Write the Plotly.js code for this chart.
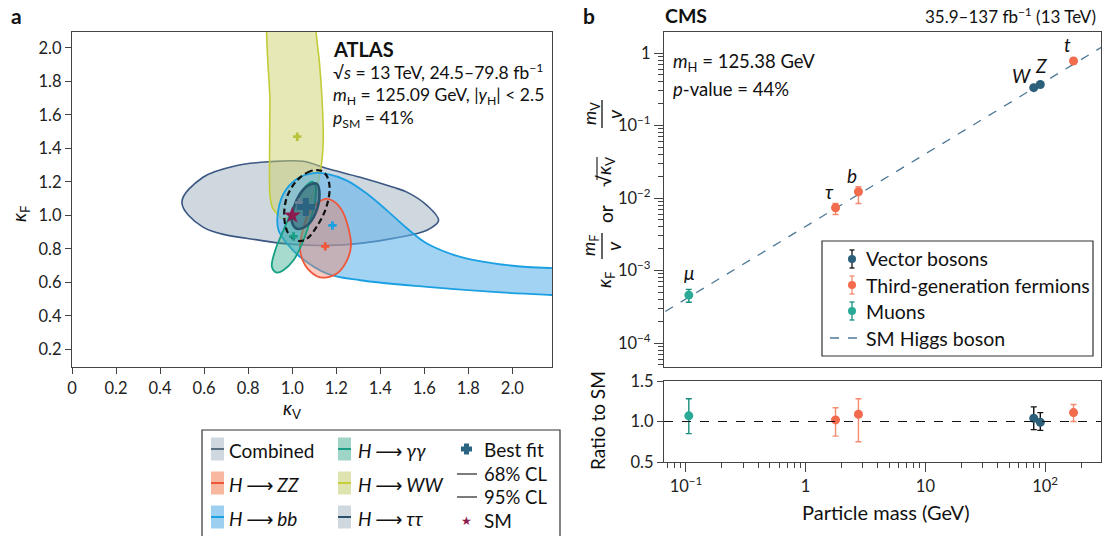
<!DOCTYPE html>
<html><head><meta charset="utf-8">
<script src="https://cdn.plot.ly/plotly-3.0.1.min.js"></script>
<style>html,body{margin:0;padding:0;background:#fff;} #chart{width:1114px;height:536px;}</style>
</head><body><div id="chart"></div>
<script>
// ---------- Panel a: ATLAS (kappa_V, kappa_F) contours ----------
const ttKV = [0.499,0.595,0.749,0.900,1.050,1.158,1.309,1.459,1.521,1.612,1.665,1.612,1.459,1.309,1.158,1.005,0.855,0.595,0.499];
const ttKF = [1.079,1.228,1.298,1.321,1.323,1.280,1.228,1.168,1.139,1.060,0.970,0.911,0.863,0.833,0.821,0.827,0.851,0.930,1.079];
const wwKV = [0.900,0.899,0.897,0.899,0.912,0.955,1.014,1.068,1.109,1.132,1.141,1.136,1.123,1.109,1.105,0.900];
const wwKF = [2.280,1.685,1.300,1.119,1.042,0.982,1.006,1.065,1.161,1.298,1.446,1.685,1.923,2.089,2.280,2.280];
const bbKV = [0.933,0.960,1.021,1.097,1.158,1.249,1.340,1.430,1.521,1.612,1.764,1.914,2.067,2.195,2.400,2.400,2.195,1.914,1.612,1.309,1.158,1.036,0.976,0.938,0.933];
const bbKF = [0.990,1.129,1.218,1.252,1.248,1.208,1.129,1.030,0.923,0.832,0.752,0.714,0.692,0.685,0.680,0.512,0.524,0.543,0.573,0.613,0.653,0.752,0.832,0.911,0.990];
const zzKV = [1.150,1.082,1.044,1.036,1.059,1.112,1.150,1.203,1.249,1.267,1.256,1.226,1.188,1.150];
const zzKF = [1.099,1.030,0.891,0.792,0.702,0.637,0.629,0.653,0.732,0.821,0.921,1.030,1.085,1.099];
const ggKV = [1.090,1.105,1.105,1.082,1.051,1.006,0.960,0.930,0.908,0.923,0.960,1.006,1.051,1.090];
const ggKF = [1.202,1.179,1.089,0.970,0.851,0.732,0.673,0.659,0.692,0.792,0.911,1.049,1.159,1.202];
const c68KV = [1.112,1.124,1.105,1.067,1.021,0.999,1.006,1.036,1.074,1.112];
const c68KF = [1.189,1.129,1.010,0.940,0.921,0.960,1.040,1.129,1.179,1.189];
const c95KV = [1.127,1.082,1.021,0.976,0.964,0.983,1.029,1.067,1.115,1.155,1.170,1.155,1.127];
const c95KF = [1.268,1.264,1.208,1.109,0.990,0.891,0.847,0.861,0.940,1.049,1.168,1.240,1.268];
const chanNames  = ['H→WW','H→ττ','H→bb','H→ZZ','H→γγ'];
const chanBestKV = [1.023,1.032,1.183,1.150,1.006];
const chanBestKF = [1.470,1.077,0.940,0.815,0.875];
const chanColors = ['#b9c43a','#6b7f95','#1ba0e0','#f0553a','#1a9e84'];
const bestKV = [1.062], bestKF = [1.050];
const smKV = [1.0], smKF = [1.0];
const aTicks = [0,0.2,0.4,0.6,0.8,1.0,1.2,1.4,1.6,1.8,2.0];
const aTickText = ['0','0.2','0.4','0.6','0.8','1.0','1.2','1.4','1.6','1.8','2.0'];

// ---------- Panel b: CMS coupling vs mass ----------
const vev = 246.22;
const muonMass = [0.1057], muonRatio = [1.07], muonUp = [0.21], muonDn = [0.22];
const fermMass = [1.777, 2.76, 172.76], fermRatio = [1.02, 1.09, 1.11], fermUp = [0.15, 0.19, 0.10], fermDn = [0.20, 0.34, 0.11];
const bosMass = [80.38, 91.19], bosRatio = [1.04, 0.99], bosUp = [0.14, 0.12], bosDn = [0.14, 0.10];
const smLineMass = [0.05, 400];
const labels = [
  {t:'μ', m:0.1057, r:1.07, kind:'f', dx:1, dy:23},
  {t:'τ', m:1.777, r:1.02, kind:'f', dx:-6, dy:16},
  {t:'b', m:2.76, r:1.09, kind:'f', dx:-6, dy:16},
  {t:'W', m:80.38, r:1.04, kind:'v', dx:-12, dy:12},
  {t:'Z', m:91.19, r:0.99, kind:'v', dx:1, dy:19},
  {t:'t', m:172.76, r:1.11, kind:'f', dx:-6, dy:16}
];
const bTickVals = [1e-4,1e-3,1e-2,1e-1,1];
const bTickText = ['10<sup>−4</sup>','10<sup>−3</sup>','10<sup>−2</sup>','10<sup>−1</sup>','1'];
const mTickVals = [0.1,1,10,100];
const mTickText = ['10<sup>−1</sup>','1','10','10<sup>2</sup>'];

// ---------- helpers ----------
const W = 1114, H = 536;
const px = x => x / W, py = y => 1 - y / H;
const FONT = 'Lato, "Open Sans", sans-serif';
const fy = (m, r) => r * m / vev;            // fermion coupling
const vy = (m, r) => Math.sqrt(r) * m / vev; // vector boson coupling
function minorVals(lo, hi) { const v = []; for (let e = lo; e <= hi; e++) for (let k = 2; k <= 9; k++) v.push(k * Math.pow(10, e)); return v; }

const traces = [];
function contour(xs, ys, fill, line, w, dash, sm) {
  traces.push({x: xs, y: ys, xaxis:'x', yaxis:'y', type:'scatter', mode:'lines',
    fill: fill ? 'toself' : 'none', fillcolor: fill || undefined,
    line:{color:line, width:w, shape:'spline', smoothing: sm || 1, dash: dash || 'solid'}, hoverinfo:'skip', showlegend:false});
}
contour(ttKV, ttKF, 'rgba(178,190,204,0.62)', '#3b5783', 1.6);
contour(wwKV, wwKF, 'rgba(205,210,110,0.5)', '#c2cc38', 1.6, null, 0.6);
contour(bbKV, bbKF, 'rgba(95,180,235,0.58)', '#1aa0e2', 1.8);
contour(zzKV, zzKF, 'rgba(242,130,100,0.42)', '#f0553a', 1.8);
contour(ggKV, ggKF, 'rgba(60,175,145,0.45)', '#16a083', 1.8);
contour(c68KV, c68KF, 'rgba(45,85,105,0.5)', '#28566e', 2.6);
contour(c95KV, c95KF, null, '#111', 2.2, '6px,3.5px');
traces.push({x: chanBestKV, y: chanBestKF, xaxis:'x', yaxis:'y', type:'scatter', mode:'markers',
  marker:{symbol:'cross', size:7, color: chanColors, line:{width:0}}, showlegend:false, hoverinfo:'skip'});
traces.push({x: bestKV, y: bestKF, xaxis:'x', yaxis:'y', type:'scatter', mode:'markers',
  marker:{symbol:'cross', size:15, color:'#2a6482', line:{width:0}}, showlegend:false, hoverinfo:'skip'});
traces.push({x: smKV, y: smKF, xaxis:'x', yaxis:'y', type:'scatter', mode:'markers',
  marker:{symbol:'star', size:13, color:'#8b1d4e', line:{width:0}}, showlegend:false, hoverinfo:'skip'});

// panel b main
traces.push({x: smLineMass, y: smLineMass.map(m => m / vev), xaxis:'x2', yaxis:'y2', type:'scatter', mode:'lines',
  line:{color:'#4d7896', width:1.3, dash:'dash'}, showlegend:false, hoverinfo:'skip'});
function pts(ax, ay, xs, ys, up, dn, color, ecolor) {
  traces.push({x: xs, y: ys, xaxis: ax, yaxis: ay, type:'scatter', mode:'markers',
    marker:{size:9, color: color}, showlegend:false, hoverinfo:'skip',
    error_y:{type:'data', symmetric:false, array: up, arrayminus: dn, color: ecolor, thickness:1.4, width:3}});
}
pts('x2','y2', bosMass, bosMass.map((m,i)=>vy(m,bosRatio[i])),
  bosMass.map((m,i)=>vy(m,bosRatio[i]+bosUp[i])-vy(m,bosRatio[i])),
  bosMass.map((m,i)=>vy(m,bosRatio[i])-vy(m,bosRatio[i]-bosDn[i])), '#2c5f7a', '#111');
pts('x2','y2', fermMass, fermMass.map((m,i)=>fy(m,fermRatio[i])),
  fermMass.map((m,i)=>fy(m,fermUp[i])), fermMass.map((m,i)=>fy(m,fermDn[i])), '#f26b4c', '#f48a70');
pts('x2','y2', muonMass, muonMass.map((m,i)=>fy(m,muonRatio[i])),
  muonMass.map((m,i)=>fy(m,muonUp[i])), muonMass.map((m,i)=>fy(m,muonDn[i])), '#2aaa96', '#17907f');
// ratio panel
pts('x3','y3', bosMass, bosRatio, bosUp, bosDn, '#2c5f7a', '#111');
pts('x3','y3', fermMass, fermRatio, fermUp, fermDn, '#f26b4c', '#f48a70');
pts('x3','y3', muonMass, muonRatio, muonUp, muonDn, '#2aaa96', '#17907f');

const axisBase = {showline:true, mirror:true, linecolor:'#444', linewidth:1.2, showgrid:false, zeroline:false,
  ticks:'outside', tickcolor:'#444', tickfont:{family:FONT, size:16.5, color:'#222'}};
const mRange = [Math.log10(0.0656), Math.log10(293)];

const shapes = [], annotations = [];
const ann = (x, y, text, o) => annotations.push(Object.assign({xref:'paper', yref:'paper', x:px(x), y:py(y), text:text,
  showarrow:false, xanchor:'left', yanchor:'middle', font:{family:FONT, size:17.5, color:'#111'}}, o || {}));
const rect = (x0,y0,x1,y1,fill,line,w) => shapes.push({type:'rect', xref:'paper', yref:'paper', x0:px(x0), x1:px(x1), y0:py(y0), y1:py(y1),
  fillcolor: fill || 'rgba(0,0,0,0)', line:{color: line || 'rgba(0,0,0,0)', width: w || 0}});
const seg = (x0,y0,x1,y1,color,w,dash) => shapes.push({type:'line', xref:'paper', yref:'paper', x0:px(x0), x1:px(x1), y0:py(y0), y1:py(y1),
  line:{color:color, width:w, dash: dash || 'solid'}});
const F = s => ({family:FONT, size:s, color:'#111'});

// ratio reference line
shapes.push({type:'line', xref:'x3 domain', yref:'y3', x0:0, x1:1, y0:1, y1:1, line:{color:'#111', width:1.2, dash:'dash'}});

// panel labels & titles
ann(9, 16, '<b>a</b>', {font:F(21)});
ann(581, 16, '<b>b</b>', {font:F(21)});
ann(331, 49, '<b>ATLAS</b>', {font:F(20)});
ann(331, 72, '√<i>s</i> = 13 TeV, 24.5–79.8 fb<sup>−1</sup>');
ann(331, 96, '<i>m</i><sub>H</sub> = 125.09 GeV, |<i>y</i><sub>H</sub>| < 2.5');
ann(331, 119, '<i>p</i><sub>SM</sub> = 41%');
ann(292, 409, '<i>κ</i><sub>V</sub>', {xanchor:'center', font:F(19)});
ann(20, 214, '<i>κ</i><sub>F</sub>', {xanchor:'center', textangle:-90, font:F(19)});

ann(663, 16, '<b>CMS</b>', {font:F(19.5)});
ann(1098, 16, '35.9–137 fb<sup>−1</sup> (13 TeV)', {xanchor:'right', font:F(17)});
ann(671, 62, '<i>m</i><sub>H</sub> = 125.38 GeV', {font:F(18.5)});
ann(671, 89, '<i>p</i>-value = 44%', {font:F(18.5)});
labels.forEach(L => annotations.push({xref:'x2', yref:'y2', x: Math.log10(L.m), y: Math.log10(L.kind==='v' ? vy(L.m,L.r) : fy(L.m,L.r)),
  text:'<i>'+L.t+'</i>', showarrow:false, xshift:L.dx, yshift:L.dy, font:F(19)}));

// panel b y title (fractions)
const rot = s => ({xanchor:'center', textangle:-90, font:F(s)});
ann(605, 280, '<i>κ</i><sub>F</sub>', rot(19));
ann(590, 246, '<i>m</i><sub>F</sub>', rot(18));
seg(602, 233, 602, 259, '#111', 1.3);
ann(614, 246, '<i>v</i>', rot(19));
ann(605, 214, 'or', rot(19));
ann(605, 172, '√<i>κ</i><sub>V</sub>', rot(19));
seg(597, 157, 597, 180, '#111', 1.1);
ann(590, 114, '<i>m</i><sub>V</sub>', rot(18));
seg(602, 100, 602, 128, '#111', 1.3);
ann(614, 114, '<i>v</i>', rot(19));
ann(597, 421, 'Ratio to SM', {xanchor:'center', textangle:-90, font:F(19)});
ann(886, 512, 'Particle mass (GeV)', {xanchor:'center', font:F(20)});

// panel a legend
rect(202, 430, 560, 545, null, '#333', 1.2);
const ARROW = '<span style="font-family:DejaVu Sans">\u2009⟶\u2009</span>';
const legA = [
  {c:0, r:0, t:'Combined', f:'#cfd7df', l:'#5b6f82'},
  {c:1, r:0, t:'<i>H</i>'+ARROW+'<i>γγ</i>', f:'#9fd5c6', l:'#1a9e84'},
  {c:0, r:1, t:'<i>H</i>'+ARROW+'<i>ZZ</i>', f:'#f8b8a0', l:'#f0553a'},
  {c:1, r:1, t:'<i>H</i>'+ARROW+'<i>WW</i>', f:'#dfe3b0', l:'#c5cf3a'},
  {c:0, r:2, t:'<i>H</i>'+ARROW+'<i>bb</i>', f:'#9dd0f0', l:'#1ba0e0'},
  {c:1, r:2, t:'<i>H</i>'+ARROW+'<i>ττ</i>', f:'#cfd7df', l:'#2a5070'}
];
const rowsA = [449, 483, 517], swX = [211, 338], txX = [227, 356];
legA.forEach(e => { const y = rowsA[e.r], x = swX[e.c];
  rect(x, y-11.5, x+13, y+11.5, e.f, null, 0); seg(x, y, x+13, y, e.l, 2);
  ann(txX[e.c], y+1, e.t, {font:F(19)}); });
rect(461, 446.5, 472, 451.5, '#2a6482'); rect(464, 443.5, 469, 454.5, '#2a6482');
ann(482, 449, 'Best fit', {font:F(19)});
seg(457, 474, 477, 474, '#333', 1.3); ann(482, 474, '68% CL', {font:F(18.5)});
seg(457, 497, 477, 497, '#333', 1.3); ann(482, 497, '95% CL', {font:F(18.5)});
ann(466.5, 521, '★', {xanchor:'center', font:{family:'DejaVu Sans', size:12, color:'#8b1d4e'}});
ann(482, 520, 'SM', {font:F(19)});

// panel b legend
rect(822, 241, 1093, 356, '#fff', '#333', 1.2);
const legB = [
  {y:259, t:'Vector bosons', c:'#2c5f7a', e:'#111'},
  {y:285, t:'Third-generation fermions', c:'#f26b4c', e:'#f48a70'},
  {y:311, t:'Muons', c:'#2aaa96', e:'#17907f'}
];
legB.forEach(e => { seg(852, e.y-9, 852, e.y+9, e.e, 1.3); seg(849.5, e.y-9, 854.5, e.y-9, e.e, 1.3); seg(849.5, e.y+9, 854.5, e.y+9, e.e, 1.3);
  shapes.push({type:'circle', xref:'paper', yref:'paper', x0:px(848), x1:px(856), y0:py(e.y-4), y1:py(e.y+4), fillcolor:e.c, line:{width:0}});
  ann(864, e.y, e.t, {font:F(19.5)}); });
seg(830, 338, 858, 338, '#4d7896', 1.3, 'dash');
ann(864, 338, 'SM Higgs boson', {font:F(19.5)});

const layout = {
  width: W, height: H, margin:{l:0, r:0, t:0, b:0, pad:0}, paper_bgcolor:'#fff', plot_bgcolor:'rgba(0,0,0,0)', showlegend:false,
  font:{family:FONT, color:'#111'},
  xaxis: Object.assign({}, axisBase, {domain:[px(72), px(552)], range:[0, 2.18], anchor:'y', tickmode:'array', tickvals:aTicks, ticktext:aTickText, ticklen:6}),
  yaxis: Object.assign({}, axisBase, {domain:[py(367), py(32)], range:[0.095, 2.095], anchor:'x', tickmode:'array', tickvals:aTicks.slice(1), ticktext:aTickText.slice(1), ticklen:6}),
  xaxis2: Object.assign({}, axisBase, {domain:[px(664), px(1101)], type:'log', range:mRange, anchor:'y2', showticklabels:false, ticks:''}),
  yaxis2: Object.assign({}, axisBase, {domain:[py(367), py(32)], type:'log', range:[-4.33, 0.29], anchor:'x2', tickmode:'array', tickvals:bTickVals, ticktext:bTickText, ticklen:9,
     minor:{ticks:'outside', ticklen:5, tickcolor:'#444', tickmode:'array', tickvals:minorVals(-5, 0)}}),
  xaxis3: Object.assign({}, axisBase, {domain:[px(664), px(1101)], type:'log', range:mRange, anchor:'y3', tickmode:'array', tickvals:mTickVals, ticktext:mTickText, ticklen:9,
     minor:{ticks:'outside', ticklen:5, tickcolor:'#444', tickmode:'array', tickvals:minorVals(-2, 2)}}),
  yaxis3: Object.assign({}, axisBase, {domain:[py(462), py(381)], range:[0.5, 1.5], anchor:'x3', tickmode:'array', tickvals:[0.5,1.0,1.5], ticktext:['0.5','1.0','1.5'], ticklen:6}),
  shapes: shapes, annotations: annotations
};
Plotly.newPlot('chart', traces, layout, {staticPlot:true, displayModeBar:false});
</script></body></html>
